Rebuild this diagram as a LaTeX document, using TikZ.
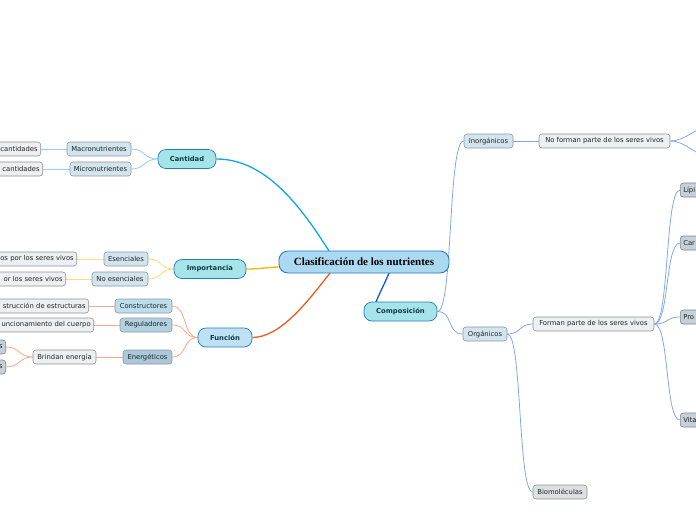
\documentclass[tikz,border=0pt]{standalone}
\usepackage{fontspec}
\setmainfont{DejaVu Sans}
\newfontfamily\rootfont{Liberation Serif}
\usetikzlibrary{backgrounds}
\definecolor{rootfill}{HTML}{ABD9F1}
\definecolor{rootborder}{HTML}{2378BE}
\definecolor{mainfill}{HTML}{A7E4EA}
\definecolor{funfill}{HTML}{BEE2F4}
\definecolor{mainborder}{HTML}{1F7FB7}
\definecolor{maintext}{HTML}{0D3B44}
\definecolor{subfill}{HTML}{D2E4EE}
\definecolor{constrfill}{HTML}{BCDDEE}
\definecolor{regulfill}{HTML}{B1D0E0}
\definecolor{energfill}{HTML}{A9C9DA}
\definecolor{subborder}{HTML}{8E989E}
\definecolor{grayfill}{HTML}{EDF0F2}
\definecolor{grayborder}{HTML}{8C9296}
\definecolor{leaffill}{HTML}{C6D0D8}
\definecolor{leafborder}{HTML}{7F878C}
\definecolor{biofill}{HTML}{DCE0E3}
\definecolor{cantmain}{HTML}{12A3E8}
\definecolor{cantsub}{HTML}{8ED1F0}
\definecolor{impmain}{HTML}{F5B400}
\definecolor{impsub}{HTML}{FFD97A}
\definecolor{funmain}{HTML}{F05A1E}
\definecolor{funsub}{HTML}{FFA68A}
\definecolor{compmain}{HTML}{0A5AD6}
\definecolor{compsub}{HTML}{7EA8EE}
\definecolor{nodetext}{HTML}{222222}
\tikzset{
  smallfont/.style={font=\fontsize{6.8}{8}\selectfont},
  base/.style={draw, rounded corners=3pt, minimum height=14pt, inner xsep=3pt, inner ysep=0pt, smallfont, text=nodetext, line width=0.6pt},
  rootbox/.style={draw=rootborder, fill=rootfill, rounded corners=9pt, minimum height=22pt, minimum width=170pt, font=\rootfont\bfseries\fontsize{11}{12}\selectfont, text=black, line width=0.8pt},
  mainbox/.style={draw=mainborder, fill=mainfill, rounded corners=8pt, minimum height=19pt, line width=0.7pt, font=\bfseries\fontsize{6.8}{8}\selectfont, text=maintext},
  subbox/.style={base, draw=subborder, fill=subfill},
  graybox/.style={base, draw=grayborder, fill=grayfill},
  leafbox/.style={base, draw=leafborder, fill=leaffill, text width=40pt, align=left, anchor=west},
  cutbox/.style={graybox, align=right, anchor=east},
  mainline/.style={line width=1.3pt},
  subline/.style={line width=0.8pt},
}
\newcommand{\lr}[4]{\draw[subline,#1] (#2) .. controls +(#4,0) and +(-#4,0) .. (#3);}
\begin{document}
\begin{tikzpicture}[x=1pt,y=-1pt]
\useasboundingbox (0,0) rectangle (696,520);
\coordinate (rtop) at (329,251);
\coordinate (rbot) at (330,273);
\coordinate (rleft) at (280,267);
\coordinate (rbot2) at (389,273);
\coordinate (ctop) at (376,302);
% ---- nodes
\node[rootbox] (root) at (364,262) {Clasificación de los nutrientes};
\node[mainbox, minimum width=58pt] (cant) at (187,159) {Cantidad};
\node[mainbox, minimum width=72pt] (imp) at (210,269) {Importancia};
\node[mainbox, fill=funfill, minimum width=54pt] (fun) at (225,337.5) {Función};
\node[mainbox, minimum width=73pt] (comp) at (400.5,311.5) {Composición};

\node[subbox, minimum width=64pt] (macro) at (99,149) {Macronutrientes};
\node[subbox, minimum width=61pt] (micro) at (100.5,169) {Micronutrientes};
\node[cutbox, text width=70pt] (c1) at (41,149) {cantidades};
\node[cutbox, text width=70pt] (c2) at (43,169) {cantidades};

\node[subbox, minimum width=44pt] (esen) at (126,259) {Esenciales};
\node[subbox, minimum width=56pt] (noesen) at (120,279) {No esenciales};
\node[cutbox, text width=110pt] (e1) at (77,259) {os por los seres vivos};
\node[cutbox, text width=110pt] (e2) at (66,279) {or los seres vivos};

\node[subbox, fill=constrfill, minimum width=57pt] (constr) at (143.5,306) {Constructores};
\node[subbox, fill=regulfill, minimum width=52pt] (regul) at (146,325) {Reguladores};
\node[subbox, fill=energfill, minimum width=49pt] (energ) at (147.5,357) {Energéticos};
\node[cutbox, text width=120pt] (f1) at (89,306) {strucción de estructuras};
\node[cutbox, text width=120pt] (f2) at (94,325) {uncionamiento del cuerpo};
\node[graybox, minimum width=63pt] (brin) at (64.5,357) {Brindan energía};
\node[cutbox, draw=leafborder, fill=leaffill, text width=30pt] (b1) at (6,347) {s};
\node[cutbox, draw=leafborder, fill=leaffill, text width=30pt] (b2) at (6,367) {s};

\node[subbox, minimum width=49pt] (inorg) at (488.5,141) {Inorgánicos};
\node[graybox, minimum width=131pt] (nof) at (604.5,141) {No forman parte de los seres vivos};
\coordinate (nofa) at (712,126);
\coordinate (nofb) at (712,157);
\node[subbox, minimum width=44pt] (org) at (485,334) {Orgánicos};
\node[graybox, minimum width=121pt] (forman) at (593.5,324) {Forman parte de los seres vivos};
\node[graybox, fill=biofill, minimum width=54pt] (bio) at (560,492) {Biomoléculas};
\node[leafbox] (lip) at (680,190) {Lípi};
\node[leafbox] (car) at (680,243) {Car};
\node[leafbox] (pro) at (680,317) {Pro};
\node[leafbox] (vit) at (680,420) {Vita};

\begin{scope}[on background layer]
% ---- main edges
\draw[mainline, cantmain] (cant.east) .. controls (265,159) and (300,205) .. (rtop);
\draw[mainline, impmain] (imp.east) .. controls (262,269) and (268,267) .. (rleft);
\draw[mainline, funmain] (fun.east) .. controls (280,337) and (305,305) .. (rbot);
\draw[mainline, compmain] (rbot2) .. controls (384,285) and (380,292) .. (ctop);

% ---- sub edges
\lr{cantsub}{micro.east}{cant.west}{14}
\lr{cantsub}{macro.east}{cant.west}{14}
\draw[subline, cantsub] (c1) -- (macro);
\draw[subline, cantsub] (c2) -- (micro);

\lr{impsub}{esen.east}{imp.west}{14}
\lr{impsub}{noesen.east}{imp.west}{14}
\draw[subline, impsub] (e1) -- (esen);
\draw[subline, impsub] (e2) -- (noesen);

\lr{funsub}{constr.east}{fun.west}{15}
\lr{funsub}{regul.east}{fun.west}{15}
\lr{funsub}{energ.east}{fun.west}{15}
\draw[subline, funsub] (f1) -- (constr);
\draw[subline, funsub] (f2) -- (regul);
\draw[subline, funsub] (brin) -- (energ);
\lr{funsub}{b1.east}{brin.west}{14}
\lr{funsub}{b2.east}{brin.west}{14}

\lr{compsub}{comp.east}{inorg.west}{16}
\lr{compsub}{comp.east}{org.west}{16}
\draw[subline, compsub] (inorg) -- (nof);
\lr{compsub}{nof.east}{nofa}{16}
\lr{compsub}{nof.east}{nofb}{16}
\lr{compsub}{org.east}{forman.west}{14}
\lr{compsub}{org.east}{bio.west}{15}
\lr{compsub}{forman.east}{lip.west}{15}
\lr{compsub}{forman.east}{car.west}{15}
\lr{compsub}{forman.east}{pro.west}{15}
\lr{compsub}{forman.east}{vit.west}{15}
\end{scope}
\end{tikzpicture}
\end{document}
